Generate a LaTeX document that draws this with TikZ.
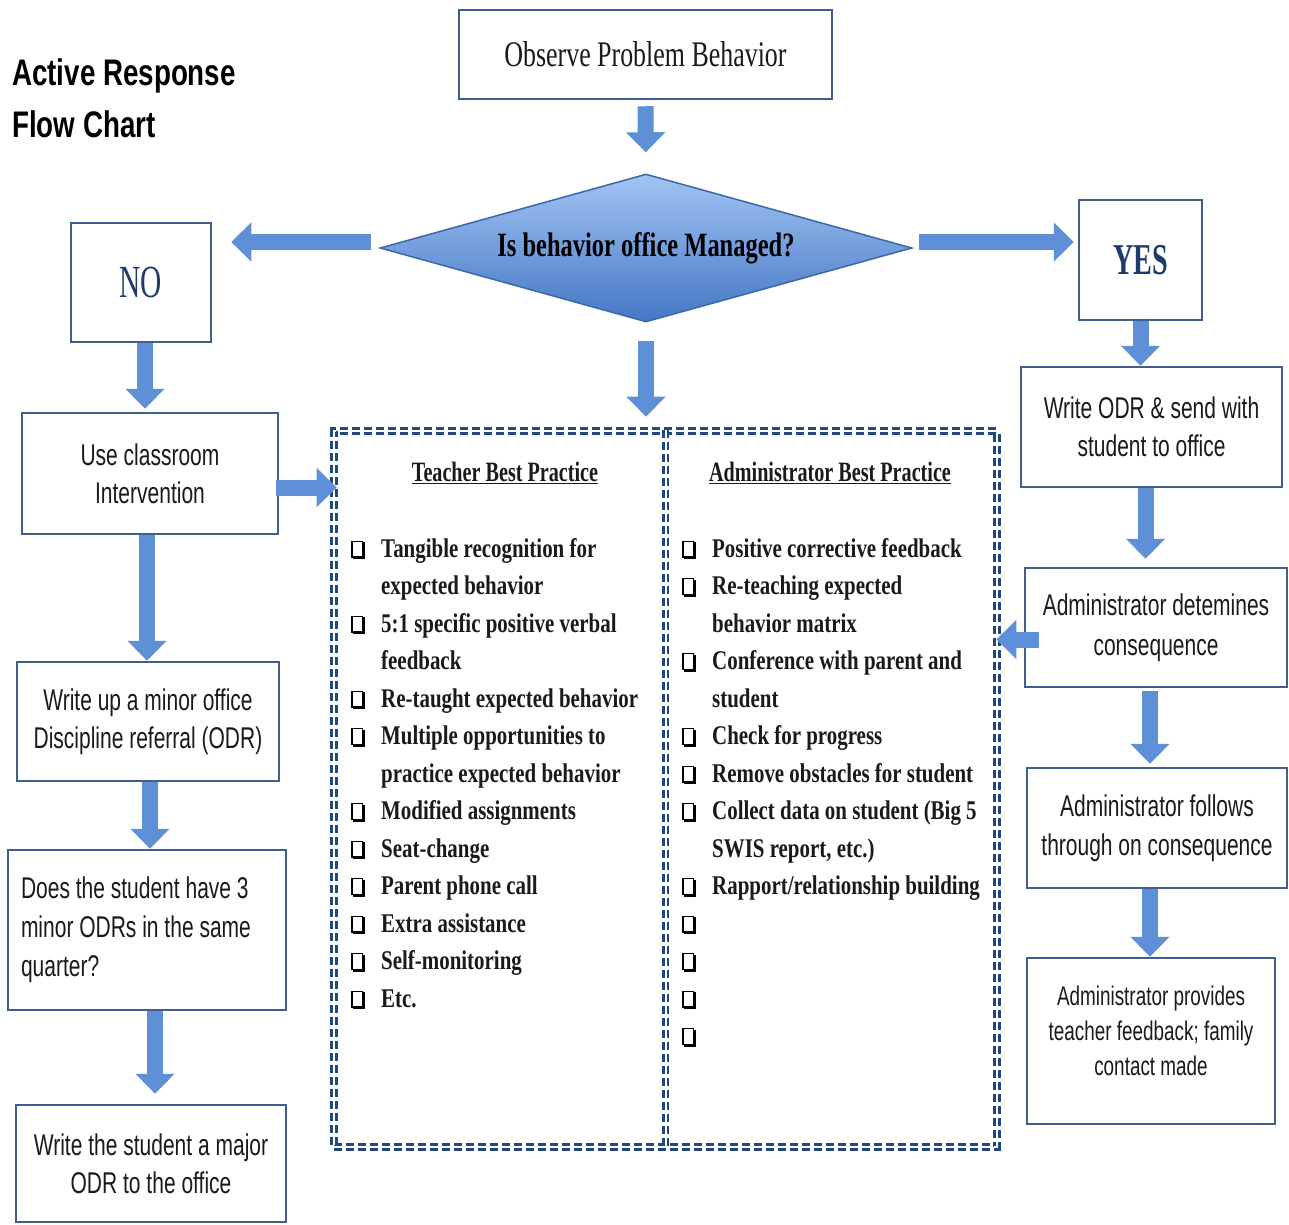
\documentclass[tikz,border=0pt]{standalone}
\usepackage{fontspec}
\usetikzlibrary{shapes.geometric,arrows.meta,calc}
\newfontfamily\serifN[FakeStretch=0.72]{Liberation Serif}
\newfontfamily\yesnoF[FakeStretch=0.64]{Liberation Serif}
\newfontfamily\sansN[FakeStretch=0.70]{Liberation Sans}
\newfontfamily\titleF[FakeStretch=0.75]{Liberation Sans}
\newfontfamily\listF[FakeStretch=0.775]{Liberation Serif}
\definecolor{boxblue}{HTML}{3F5F8F}
\definecolor{arrblue}{HTML}{5F8FD6}
\definecolor{dashblue}{HTML}{1F4A80}
\definecolor{navy}{HTML}{1F3A6B}
\definecolor{txt}{HTML}{1A1A1A}
\definecolor{diatop}{HTML}{A2C4F2}
\definecolor{diabot}{HTML}{4577C6}
\definecolor{diaedge}{HTML}{3A68A8}
\newcommand{\cbglyph}{%
  \raisebox{1pt}{%
  \rlap{\hspace{1.5pt}\raisebox{-3pt}{\color{black}\rule{12pt}{17pt}}}%
  {\setlength{\fboxsep}{0pt}\setlength{\fboxrule}{1.3pt}%
   \fcolorbox{black}{white}{\rule{0pt}{14.4pt}\rule{9.4pt}{0pt}}}}}
\newcommand{\cbx}{\makebox[30pt][l]{\cbglyph}}
\newcommand{\ind}{\makebox[30pt]{}}
\begin{document}
\begin{tikzpicture}[x=1pt,y=-1pt,
  box/.style={draw=boxblue, line width=2.5pt, rectangle, inner sep=0pt, align=center, text=txt},
  sanstxt/.style={font=\sansN\fontsize{30}{38}\selectfont},
  barrow/.style={draw=arrblue, line width=16pt, -{Triangle[width=38pt,length=20pt]}},
  dbl/.style={draw=dashblue, line width=2.6pt, double=white, double distance=2pt, dash pattern=on 8pt off 4pt},
  listtxt/.style={inner sep=0pt, align=left, text=txt, font=\listF\bfseries\fontsize{27}{37.5}\selectfont},
  headtxt/.style={inner sep=0pt, text=txt, font=\serifN\bfseries\fontsize{28}{30}\selectfont}
]
\fill[white] (0,0) rectangle (1289,1224);
\useasboundingbox (0,0) rectangle (1289,1224);

% title
\node[anchor=north west, align=left, inner sep=0pt, text=black,
  font=\titleF\bfseries\fontsize{37}{52}\selectfont] (title) at (12,58) {Active Response\\Flow Chart};

% top
\node[box, minimum width=373pt, minimum height=89pt, font=\serifN\fontsize{36}{40}\selectfont] (obs) at (645.5,54.5) {Observe Problem Behavior};
\node[diamond, draw=diaedge, line width=1.5pt, top color=diatop, bottom color=diabot,
  minimum width=532pt, minimum height=148pt, aspect=3.6, inner sep=0pt, text=black,
  font=\serifN\bfseries\fontsize{34}{36}\selectfont] (dia) at (646,248) {Is behavior office Managed?};
\node[box, minimum width=140pt, minimum height=119pt, text=navy, font=\yesnoF\fontsize{46}{46}\selectfont] (no) at (141,282.5) {NO};
\node[box, minimum width=123pt, minimum height=120pt, text=navy, font=\yesnoF\bfseries\fontsize{44}{44}\selectfont] (yes) at (1140.5,260) {YES};

% left column
\node[box, sanstxt, minimum width=256pt, minimum height=121pt] (use) at (150,473.5) {Use classroom\\Intervention};
\node[box, sanstxt, minimum width=262pt, minimum height=119pt] (wup) at (148,721.5) {Write up a minor office\\Discipline referral (ODR)};
\node[box, minimum width=278pt, minimum height=160pt, text width=252pt, align=left,
  font=\sansN\fontsize{30}{39}\selectfont] (does) at (147,930) {\spaceskip=0pt\xspaceskip=0pt Does the student have 3\\minor ODRs in the same\\quarter?};
\node[box, sanstxt, minimum width=270pt, minimum height=117pt] (major) at (151,1163.5) {Write the student a major\\ODR to the office};

% right column
\node[box, sanstxt, minimum width=261pt, minimum height=120pt] (wodr) at (1151.5,427) {Write ODR \& send with\\student to office};
\node[box, sanstxt, minimum width=262pt, minimum height=119pt, font=\sansN\fontsize{30}{40}\selectfont] (adet) at (1156,627.5) {Administrator detemines\\consequence};
\node[box, sanstxt, minimum width=260pt, minimum height=120pt, font=\sansN\fontsize{30}{39}\selectfont] (afol) at (1157,828) {Administrator follows\\through on consequence};
\node[box, minimum width=248pt, minimum height=166pt, font=\sansN\fontsize{27}{35}\selectfont] (aprov) at (1151,1041) {Administrator provides\\teacher feedback; family\\contact made\\[-15pt]\mbox{}};

% best practice box
\node[dbl, rectangle, minimum width=663pt, minimum height=716pt, inner sep=0pt] (bp) at (665.5,789) {};
\draw[dbl] (bp.north) -- (bp.south);

\node[headtxt] (th) at (505,473) {\underline{Teacher Best Practice}};
\node[headtxt] (ah) at (830,473) {\underline{Administrator Best Practice}};

\node[listtxt, anchor=north west] (tlist) at (351,538) {%
\cbx Tangible recognition for\\
\ind expected behavior\\
\cbx 5:1 specific positive verbal\\
\ind feedback\\
\cbx Re-taught expected behavior\\
\cbx Multiple opportunities to\\
\ind practice expected behavior\\
\cbx Modified assignments\\
\cbx Seat-change\\
\cbx Parent phone call\\
\cbx Extra assistance\\
\cbx Self-monitoring\\
\cbx Etc.};

\node[listtxt, anchor=north west] (alist) at (682,538) {%
\cbx Positive corrective feedback\\
\cbx Re-teaching expected\\
\ind behavior matrix\\
\cbx Conference with parent and\\
\ind student\\
\cbx Check for progress\\
\cbx Remove obstacles for student\\
\cbx Collect data on student (Big 5\\
\ind SWIS report, etc.)\\
\cbx Rapport/relationship building\\
\cbx\\
\cbx\\
\cbx\\
\cbx};

% arrows
\draw[barrow, shorten <=6pt, shorten >=21pt] (obs.south) -- (dia.north);
\draw[barrow, shorten <=8pt, shorten >=19pt] ([yshift=6pt]dia.west) -- ([yshift=6pt]dia.west -| no.east);
\draw[barrow, shorten <=6pt, shorten >=4pt] ([yshift=6pt]dia.east) -- ([yshift=6pt]dia.east -| yes.west);
\draw[barrow, shorten <=18pt, shorten >=13pt] (dia.south) -- (dia.south |- bp.north);
\draw[barrow, shorten >=3pt] ([xshift=4pt]no.south) -- ([xshift=4pt]no.south |- use.north);
\draw[barrow] (yes.south) -- (yes.south |- wodr.north);
\draw[barrow, shorten <=-3pt, shorten >=-4pt] ([yshift=-14pt]use.east) -- ([yshift=-14pt]use.east -| bp.west);
\draw[barrow] ([xshift=-3pt]use.south) -- ([xshift=-3pt]use.south |- wup.north);
\draw[barrow] ([xshift=2pt]wup.south) -- ([xshift=2pt]wup.south |- does.north);
\draw[barrow, shorten >=10pt] ([xshift=8pt]does.south) -- ([xshift=8pt]does.south |- major.north);
\draw[barrow, shorten >=8pt] ([xshift=-6pt]wodr.south) -- ([xshift=-6pt]wodr.south |- adet.north);
\draw[barrow, shorten <=-15pt, shorten >=-2pt] ([yshift=-12pt]adet.west) -- ([yshift=-12pt]adet.west -| bp.east);
\draw[barrow, shorten <=3pt, shorten >=3pt] ([xshift=-6pt]adet.south) -- ([xshift=-6pt]adet.south |- afol.north);
\draw[barrow] ([xshift=-7pt]afol.south) -- ([xshift=-7pt]afol.south |- aprov.north);
\end{tikzpicture}
\end{document}
